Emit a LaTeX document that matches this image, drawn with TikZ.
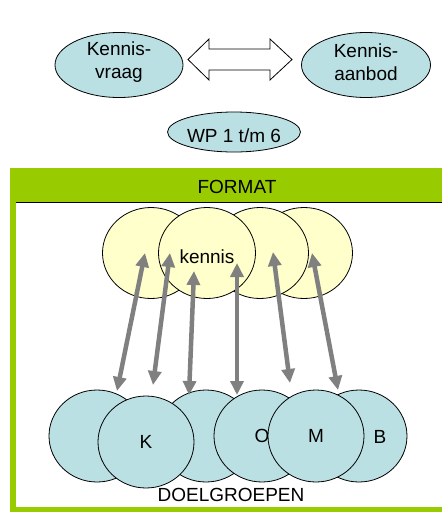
\documentclass[tikz,border=0pt]{standalone}
\usepackage{fontspec}
\setmainfont{Liberation Sans}
\usetikzlibrary{shapes.geometric,arrows.meta}

\definecolor{lichtblauw}{RGB}{187,224,228}
\definecolor{lichtgeel}{RGB}{255,255,204}
\definecolor{formatgroen}{RGB}{153,204,0}
\definecolor{pijlgrijs}{RGB}{128,128,128}

\begin{document}
\begin{tikzpicture}[x=1pt, y=-1pt]
 \tikzstyle{wolk}=[ellipse, draw, line width=0.8pt, fill=lichtblauw, text=black, align=center, inner sep=0pt, font=\fontsize{19}{22.5}\selectfont]
 \tikzstyle{wolktekst}=[text=black, align=center, inner sep=0pt, yshift=3pt, font=\fontsize{19}{22.5}\selectfont]
 \tikzstyle{kennisbol}=[ellipse, draw, line width=0.8pt, fill=lichtgeel, minimum width=97pt, minimum height=91pt, inner sep=0pt, font=\fontsize{19}{22.5}\selectfont]
 \tikzstyle{doelbol}=[ellipse, draw, line width=0.8pt, fill=lichtblauw, minimum width=96pt, minimum height=92pt, inner sep=0pt, font=\fontsize{19}{22.5}\selectfont]
 \tikzstyle{tekst}=[text=black, inner sep=0pt, font=\fontsize{19}{22.5}\selectfont]
 \tikzstyle{koppel}=[{Triangle[length=14pt,width=13pt]}-{Triangle[length=14pt,width=13pt]}, draw=pijlgrijs, line width=4.5pt]
 %
 \useasboundingbox (0,0) rectangle (442,512);
 \clip (0,0) rectangle (442,512);
 %
 \node[wolk, minimum width=128pt, minimum height=65pt, label={[wolktekst]center:Kennis-\\vraag}] (vraag) at (119,65) {};
 \node[wolk, minimum width=129pt, minimum height=65pt, label={[wolktekst]center:Kennis-\\aanbod}] (aanbod) at (366,65) {};
 \node[wolk, minimum width=112pt, minimum height=40pt, text height=21pt, text depth=0pt] (wp) at (234,132) {WP 1 t/m 6};
 \draw[fill=white, line width=0.8pt] (188,59.5) -- (209,39) -- (209,49) -- (270,49) -- (270,39)
   -- (292,59.5) -- (270,80) -- (270,70) -- (209,70) -- (209,80) -- cycle;
 %
 \fill[formatgroen] (10,168.5) rectangle (450,202);
 \draw[formatgroen, line width=6pt] (13,171) rectangle (460,510);
 \draw[black, line width=1pt] (16,202.5) -- (450,202.5);
 \node[tekst] (format) at (237,187) {FORMAT};
 %
 \node[kennisbol] (geel1) at (151,253) {};
 \node[kennisbol] (geel4) at (304,253) {};
 \node[kennisbol] (geel3) at (260,253) {};
 \node[kennisbol, text height=20pt, text depth=0pt] (kennis) at (207,253) {kennis};
 %
 \node[doelbol] (dgA) at (97,436) {};
 \node[doelbol] (dgC) at (206,436) {};
 \node[doelbol] (dgB) at (359,436) {};
 \node[doelbol] (dgK) at (146,442) {K};
 \node[doelbol] (dgO) at (262,436) {O};
 \node[doelbol] (dgM) at (316,436) {M};
 \node[tekst] (labelB) at (380,437) {B};
 \node[tekst] (doelgroepen) at (231,495) {DOELGROEPEN};
 %%
 \coordinate (boven1) at (145,253);
 \coordinate (boven2) at (170,253);
 \coordinate (boven3) at (194,271);
 \coordinate (boven4) at (237,263);
 \coordinate (boven5) at (273,252);
 \coordinate (boven6) at (312,253);
 \coordinate (onder1) at (117,391);
 \coordinate (onder2) at (153,385);
 \coordinate (onder3) at (189,395);
 \coordinate (onder4) at (237,395);
 \coordinate (onder5) at (290,383);
 \coordinate (onder6) at (338,390);
 \draw[koppel] (onder1)--(boven1);
 \draw[koppel] (onder2)--(boven2);
 \draw[koppel] (onder3)--(boven3);
 \draw[koppel] (onder4)--(boven4);
 \draw[koppel] (onder5)--(boven5);
 \draw[koppel] (onder6)--(boven6);
\end{tikzpicture}
\end{document}
